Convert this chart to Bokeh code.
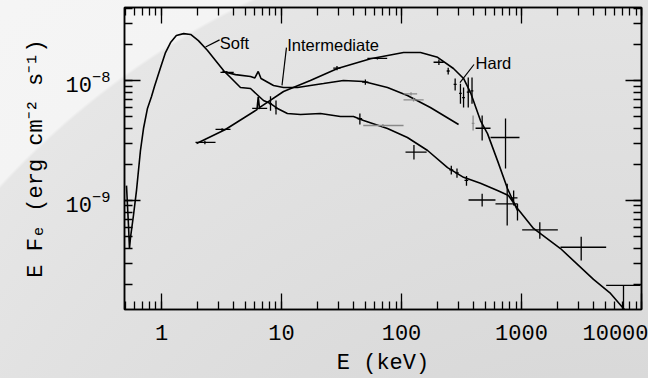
from bokeh.plotting import figure
from bokeh.models import (LogAxis, LogTicker, CustomJSTickFormatter, LogTickFormatter,
                          Range1d, ColumnDataSource)
from bokeh.embed import file_html
from bokeh.resources import INLINE
from bokeh.core.properties import value

# ---------------- data (E in keV, E F_E in erg cm^-2 s^-1) ----------------
soft_E = [0.511, 0.531, 0.541, 0.552, 0.584, 0.619, 0.668, 0.708, 0.764, 0.826, 0.874,
          0.981, 1.08, 1.19, 1.33, 1.53, 1.75, 2.03, 2.42, 2.82, 3.29, 3.76, 4.55, 5.52,
          7.08, 8.10, 9.26, 11.2, 14.4, 21.1, 31.0, 39.8, 48.3, 76.4, 112, 165, 242, 329,
          455, 631, 779, 926, 1259, 2113, 3981, 5521, 7079, 9000]
soft_F = [1.33e-9, 6.19e-10, 3.98e-10, 4.92e-10, 7.5e-10, 1.21e-9, 2.61e-9, 3.98e-9, 5.85e-9,
          7.36e-9, 8.91e-9, 1.28e-8, 1.71e-8, 2.07e-8, 2.37e-8, 2.46e-8, 2.42e-8, 2.15e-8,
          1.78e-8, 1.47e-8, 1.21e-8, 1.06e-8, 8.75e-9, 8.58e-9, 6.81e-9, 6.43e-9, 5.85e-9,
          5.31e-9, 5.21e-9, 5.31e-9, 5.01e-9, 5.01e-9, 4.64e-9, 3.98e-9, 3.35e-9, 2.61e-9,
          1.88e-9, 1.56e-9, 1.39e-9, 1.21e-9, 1.10e-9, 8.58e-10, 5.85e-10, 3.98e-10,
          2.20e-10, 1.68e-10, 1.26e-10, 9.5e-11]

inter_E = [3.22, 4.14, 5.52, 6.0, 6.4, 6.75, 8.58, 10.4, 13.6, 17.4, 22.4, 32.8, 48.3,
           76.4, 112, 174, 299]
inter_F = [1.19e-8, 1.12e-8, 1.08e-8, 1.05e-8, 1.19e-8, 1.04e-8, 9.09e-9, 8.75e-9, 8.75e-9,
           9.09e-9, 9.44e-9, 1.0e-8, 9.8e-9, 8.75e-9, 7.5e-9, 5.96e-9, 4.3e-9]

hard_E = [1.96, 3.41, 6.25, 6.4, 6.55, 10.4, 17.4, 29.3, 55.2, 104, 144, 200, 271, 329,
          376, 455, 521, 631, 764, 926]
hard_F = [2.99e-9, 3.91e-9, 5.72e-9, 7.3e-9, 5.95e-9, 8.1e-9, 1.0e-8, 1.26e-8, 1.52e-8,
          1.71e-8, 1.71e-8, 1.56e-8, 1.26e-8, 1.04e-8, 7.94e-9, 4.64e-9, 3.61e-9, 2.15e-9,
          1.26e-9, 8.25e-10]

# measured points (black): centre, energy bin, flux error
pts_E   = [2.3, 3.2, 6.5, 29, 63, 205, 245, 280, 310, 329, 360, 387, 470, 736,
           3.5, 50,
           8.1, 9.0, 45, 127, 260, 290, 348, 470, 760, 860, 926, 1421, 3144, 7080]
pts_F   = [3.05e-9, 3.91e-9, 5.85e-9, 1.27e-8, 1.53e-8, 1.42e-8, 1.2e-8, 9.3e-9, 7.8e-9,
           7.2e-9, 8.0e-9, 8.2e-9, 4.0e-9, 3.35e-9,
           1.17e-8, 9.7e-9,
           6.4e-9, 5.9e-9, 4.8e-9, 2.53e-9, 1.8e-9, 1.7e-9, 1.47e-9, 1.01e-9, 9.38e-10,
           1.05e-9, 8.0e-10, 5.7e-10, 4.08e-10, 1.96e-10]
pts_Elo = [1.92, 2.82, 5.7, 27, 52, 185, 238, 272, 302, 320, 350, 377, 414, 552,
           3.1, 47,
           7.9, 8.8, 43, 108, 250, 280, 335, 362, 607, 810, 920, 1013, 2113, 5077]
pts_Ehi = [2.82, 3.76, 7.6, 31, 76, 225, 252, 288, 318, 338, 370, 397, 552, 962,
           4.0, 53,
           8.3, 9.2, 47, 162, 270, 300, 360, 607, 926, 926, 932, 2008, 5077, 9800]
pts_Flo = [2.95e-9, 3.8e-9, 5.75e-9, 1.22e-8, 1.5e-8, 1.35e-8, 1.12e-8, 8.25e-9, 6.4e-9,
           5.96e-9, 5.96e-9, 6.4e-9, 3.16e-9, 1.85e-9,
           1.14e-8, 9.2e-9,
           5.6e-9, 5.2e-9, 4.3e-9, 2.2e-9, 1.65e-9, 1.55e-9, 1.33e-9, 8.9e-10, 6.19e-10,
           9.1e-10, 6.8e-10, 4.8e-10, 3.16e-10, 1.0e-10]
pts_Fhi = [3.15e-9, 4.0e-9, 5.95e-9, 1.32e-8, 1.56e-8, 1.5e-8, 1.28e-8, 1.04e-8, 9.4e-9,
           8.75e-9, 1.06e-8, 1.06e-8, 5.11e-9, 4.82e-9,
           1.2e-8, 1.02e-8,
           7.4e-9, 6.8e-9, 5.3e-9, 2.9e-9, 1.95e-9, 1.85e-9, 1.6e-9, 1.14e-9, 1.38e-9,
           1.21e-9, 9.4e-10, 6.6e-10, 5.0e-10, 1.96e-10]

# measured points (grey)
gpts_E   = [395, 126, 120, 70]
gpts_F   = [4.4e-9, 6.9e-9, 7.74e-9, 4.22e-9]
gpts_Elo = [385, 104, 104, 48]
gpts_Ehi = [405, 153, 135, 104]
gpts_Flo = [3.83e-9, 6.7e-9, 7.5e-9, 4.1e-9]
gpts_Fhi = [5.1e-9, 7.1e-9, 8.0e-9, 4.35e-9]

state_names = ["Soft", "Intermediate", "Hard"]
name_E = [3.06, 11.16, 414]
name_F = [2.07e-8, 1.98e-8, 1.39e-8]
lead_E0 = [3.05, 11.0, 402]
lead_F0 = [2.18e-8, 1.88e-8, 1.36e-8]
lead_E1 = [2.33, 10.1, 307]
lead_F1 = [1.9e-8, 9.1e-9, 9.6e-9]

x_title = "E (keV)"
y_title = "E F\u2091 (erg cm\u207b\u00b2 s\u207b\u00b9)"

# ---------------- figure ----------------
MONO = "Liberation Mono"
SANS = "Liberation Sans"
PAGE_BG = ("radial-gradient(circle 828px at 609px 747px, "
           "#d6d6d6 0px, #d9d9d9 370px, #e2e2e2 700px, #e6e6e6 826px, "
           "#f4f4f4 829px, #f7f7f7 1200px)")

p = figure(width=648, height=378, x_axis_type="log", y_axis_type="log",
           x_range=Range1d(0.4918, 1.0e4), y_range=Range1d(1.235e-10, 4.06e-8),
           output_backend="svg", toolbar_location=None,
           min_border_left=124, min_border_right=7, min_border_top=7, min_border_bottom=69,
           styles={"background": PAGE_BG})
p.background_fill_color = None
p.border_fill_color = None
p.outline_line_color = "black"
p.outline_line_width = 1.5
p.grid.visible = False


def style_axis(ax, show_labels):
    ax.ticker = LogTicker(num_minor_ticks=10)
    ax.major_tick_in = 16
    ax.major_tick_out = 0
    ax.minor_tick_in = 8
    ax.minor_tick_out = 0
    ax.major_tick_line_color = "black"
    ax.minor_tick_line_color = "black"
    ax.major_tick_line_width = 1.3
    ax.minor_tick_line_width = 1.3
    ax.axis_line_color = "black"
    ax.axis_line_width = 1.5
    ax.major_label_text_font = MONO
    ax.major_label_text_color = "black"
    if show_labels:
        ax.major_label_text_font_size = "22px"
    else:
        ax.major_label_text_font_size = "0px"
        ax.major_label_standoff = 0
        ax.formatter = CustomJSTickFormatter(code="return ''")


xa = p.xaxis[0]
style_axis(xa, True)
xa.formatter = CustomJSTickFormatter(code="return tick.toFixed(0)")
xa.major_label_standoff = 15
xa.axis_label = x_title
xa.axis_label_text_font = MONO
xa.axis_label_text_font_size = "22px"
xa.axis_label_text_font_style = "normal"
xa.axis_label_text_color = "black"
xa.axis_label_standoff = 8

ya = p.yaxis[0]
style_axis(ya, True)
ya.formatter = LogTickFormatter()
ya.major_label_standoff = 14
ya.axis_label = y_title
ya.axis_label_text_font = MONO
ya.axis_label_text_font_size = "22px"
ya.axis_label_text_font_style = "normal"
ya.axis_label_text_color = "black"
ya.axis_label_standoff = 14

top = LogAxis()
style_axis(top, False)
p.add_layout(top, "above")
right = LogAxis()
style_axis(right, False)
p.add_layout(right, "right")

# model curves
p.line(soft_E, soft_F, line_color="black", line_width=1.6)
p.line(inter_E, inter_F, line_color="black", line_width=1.6)
p.line(hard_E, hard_F, line_color="black", line_width=1.6)

# data crosses
src = ColumnDataSource(dict(E=pts_E, F=pts_F, Elo=pts_Elo, Ehi=pts_Ehi, Flo=pts_Flo, Fhi=pts_Fhi))
p.segment(x0="Elo", y0="F", x1="Ehi", y1="F", source=src, line_color="black", line_width=1.3)
p.segment(x0="E", y0="Flo", x1="E", y1="Fhi", source=src, line_color="black", line_width=1.3)
gsrc = ColumnDataSource(dict(E=gpts_E, F=gpts_F, Elo=gpts_Elo, Ehi=gpts_Ehi, Flo=gpts_Flo, Fhi=gpts_Fhi))
p.segment(x0="Elo", y0="F", x1="Ehi", y1="F", source=gsrc, line_color="#8a8a8a", line_width=1.3)
p.segment(x0="E", y0="Flo", x1="E", y1="Fhi", source=gsrc, line_color="#8a8a8a", line_width=1.3)

# state names and leader lines
p.segment(x0=lead_E0, y0=lead_F0, x1=lead_E1, y1=lead_F1, line_color="black", line_width=1.2)
p.text(x=name_E, y=name_F, text=state_names, text_font=value(SANS), text_font_size="16.5px",
       text_color="black", text_align="left", text_baseline="alphabetic")

open("out.html", "w").write(file_html(p, INLINE))
